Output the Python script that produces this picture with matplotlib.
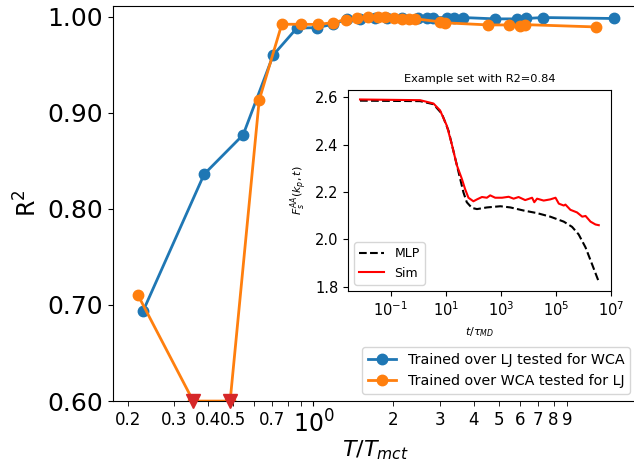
import numpy as np
import matplotlib.pyplot as plt
from matplotlib.ticker import FixedLocator, FixedFormatter

# main data: R^2 vs T/Tmct
t_lj_wca = [0.229, 0.388, 0.544, 0.706, 0.866, 1.03, 1.186, 1.336, 1.498, 1.707,
            1.889, 2.150, 2.477, 2.671, 2.813, 3.177, 3.363, 3.649, 4.826, 5.825,
            6.313, 7.298, 13.45]
r2_lj_wca = [0.694, 0.836, 0.877, 0.960, 0.988, 0.9885, 0.992, 0.9975, 0.997, 0.998,
             0.999, 0.999, 0.999, 0.999, 0.999, 0.999, 0.999, 0.999, 0.9976, 0.9976,
             0.998, 0.999, 0.998]

t_wca_lj = [0.219, 0.353, 0.486, 0.625, 0.760, 0.897, 1.039, 1.183, 1.328, 1.457,
            1.597, 1.756, 1.861, 2.012, 2.150, 2.297, 2.413, 2.998, 3.130, 4.553,
            5.415, 5.993, 6.258, 11.58]
r2_wca_lj = [0.710, 0.60, 0.60, 0.913, 0.992, 0.992, 0.9918, 0.9937, 0.9969, 0.998,
             0.9995, 0.9997, 0.9999, 0.999, 0.9977, 0.9977, 0.9977, 0.9945, 0.9935, 0.9913,
             0.9913, 0.9906, 0.9916, 0.9892]
# points below the axis limit
t_low = [0.353, 0.486]
r2_low = [0.60, 0.60]

# inset data
log_t_sim = [-2.115, 0.067, 0.55, 0.79, 1.036, 1.22, 1.40, 1.58, 1.70, 1.82, 2.0, 2.13,
             2.31, 2.49, 2.61, 2.79, 3.04, 3.28, 3.46, 3.64, 3.88, 4.13, 4.21, 4.31,
             4.55, 4.79, 4.98, 5.10, 5.28, 5.34, 5.52, 5.76, 5.95, 6.07, 6.25, 6.43, 6.55]
f_sim = [2.591, 2.588, 2.574, 2.545, 2.48, 2.40, 2.313, 2.256, 2.212, 2.176, 2.161, 2.169,
         2.179, 2.176, 2.186, 2.176, 2.176, 2.18, 2.172, 2.179, 2.166, 2.176, 2.157, 2.172,
         2.164, 2.169, 2.176, 2.151, 2.143, 2.147, 2.125, 2.114, 2.096, 2.099, 2.075, 2.063, 2.060]
log_t_mlp = [-2.115, 0.067, 0.55, 0.855, 1.10, 1.28, 1.46, 1.64, 1.76, 1.945, 2.13, 2.49,
             2.98, 3.34, 3.82, 4.31, 4.79, 5.28, 5.58, 5.82, 6.07, 6.31, 6.55]
f_mlp = [2.586, 2.584, 2.571, 2.531, 2.458, 2.371, 2.285, 2.198, 2.157, 2.133, 2.128, 2.135,
         2.140, 2.135, 2.122, 2.111, 2.096, 2.075, 2.053, 2.021, 1.966, 1.894, 1.821]

fig = plt.figure(figsize=(6.34, 4.61), dpi=100)
ax = fig.add_axes([0.178, 0.130, 0.827, 0.857])

ax.plot(t_lj_wca, r2_lj_wca, 'o-', color='tab:blue', lw=2, ms=7.5,
        label='Trained over LJ tested for WCA')
ax.plot(t_wca_lj, r2_wca_lj, 'o-', color='tab:orange', lw=2, ms=7.5,
        label='Trained over WCA tested for LJ')
ax.plot(t_low, r2_low, 'v', color='tab:red', ms=10, clip_on=False, zorder=5)

ax.set_xscale('log')
ax.set_xlim(0.176, 16.5)
ax.set_ylim(0.60, 1.011)
ax.set_yticks([0.6, 0.7, 0.8, 0.9, 1.0])
ax.set_yticklabels(['0.60', '0.70', '0.80', '0.90', '1.00'], fontsize=18)

ax.xaxis.set_major_locator(FixedLocator([1]))
ax.xaxis.set_major_formatter(FixedFormatter(['$10^0$']))
minor = [0.2, 0.3, 0.4, 0.5, 0.6, 0.7, 0.8, 0.9, 2, 3, 4, 5, 6, 7, 8, 9]
minor_lab = ['0.2', '0.3', '0.4', '0.5', '', '0.7', '', '', '2', '3', '4', '5', '6', '7', '8', '9']
ax.xaxis.set_minor_locator(FixedLocator(minor))
ax.xaxis.set_minor_formatter(FixedFormatter(minor_lab))
ax.tick_params(axis='x', which='major', labelsize=17)
ax.tick_params(axis='x', which='minor', labelsize=12, length=3.5)

ax.set_xlabel('$T/T_{mct}$', fontsize=16, labelpad=0)
ax.set_ylabel('R$^2$', fontsize=17)
ax.legend(loc='lower right', fontsize=10.3)

# inset
ins = fig.add_axes([0.549, 0.369, 0.415, 0.435])
ins.plot(10**np.array(log_t_mlp), f_mlp, '--', color='black', lw=1.5, label='MLP')
ins.plot(10**np.array(log_t_sim), f_sim, '-', color='red', lw=1.5, label='Sim')
ins.set_xscale('log')
ins.set_yticks([1.8, 2.0, 2.2, 2.4, 2.6])
ins.set_xticks([1e-1, 1e1, 1e3, 1e5, 1e7])
ins.tick_params(labelsize=10.5)
ins.set_title('Example set with R2=0.84', fontsize=8.2)
ins.set_xlabel(r'$t/\tau_{MD}$', fontsize=8)
ins.set_ylabel(r'$F_s^{AA}(k_p,t)$', fontsize=8)
ins.legend(loc='lower left', fontsize=9)

fig.savefig('out.png', dpi=100)
